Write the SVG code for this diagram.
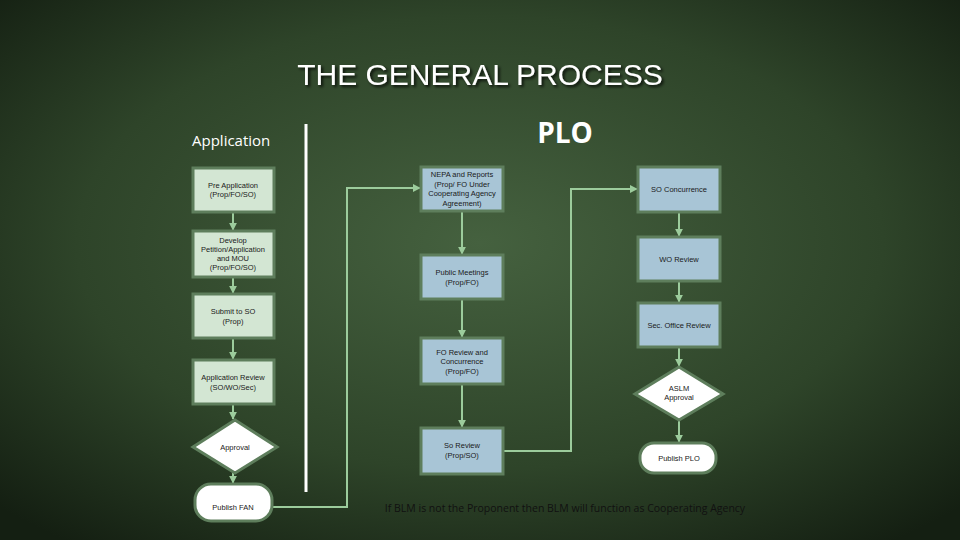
<svg xmlns="http://www.w3.org/2000/svg" width="960" height="540" viewBox="0 0 960 540">
<defs>
<radialGradient id="bg" cx="50%" cy="45%" r="70%"><stop offset="0" stop-color="#45613f"/><stop offset="0.6" stop-color="#2e4429"/><stop offset="1" stop-color="#141f12"/></radialGradient>
<marker id="ah" viewBox="0 0 10 10" refX="9" refY="5" markerWidth="4" markerHeight="4" orient="auto"><path d="M0,0L10,5L0,10z" fill="#9ccc9c"/></marker>
<filter id="sh"><feDropShadow dx="2" dy="2" stdDeviation="1.5" flood-color="#000" flood-opacity="0.8"/></filter>
</defs>
<style>
.g{fill:#d3e6d3;stroke:#5e7e5c;stroke-width:3}
.b{fill:#a8c5d6;stroke:#5e7e5c;stroke-width:3}
.w{fill:#fff;stroke:#5e7e5c;stroke-width:3}
.t{font-family:"Liberation Sans",Arial,sans-serif;font-size:7.5px;fill:#1a1a1a;text-anchor:middle}
.c{fill:none;stroke:#9ccc9c;stroke-width:2;marker-end:url(#ah)}
</style>
<rect width="960" height="540" fill="url(#bg)"/>
<text x="480" y="85" font-family="Liberation Sans,Arial,sans-serif" font-size="30" fill="#fff" text-anchor="middle" filter="url(#sh)">THE GENERAL PROCESS</text>
<text x="565" y="143" font-family="Open Sans,sans-serif" font-size="28" font-weight="bold" fill="#fff" text-anchor="middle">PLO</text>
<text x="192" y="146" font-family="Open Sans,sans-serif" font-size="15" fill="#fff">Application</text>
<line x1="306" y1="124" x2="306" y2="492" stroke="#fff" stroke-width="3"/>
<g id="connectors">
<path class="c" d="M233,212V230"/><path class="c" d="M233,277V293"/><path class="c" d="M233,338V359"/><path class="c" d="M233,404V419"/><path class="c" d="M233,473V483"/>
<path class="c" d="M272,507H347V188H420"/>
<path class="c" d="M462,211V254"/><path class="c" d="M462,299V337"/><path class="c" d="M462,384V427"/>
<path class="c" d="M503,451H571V189H637"/>
<path class="c" d="M679,212V236"/><path class="c" d="M679,281V302"/><path class="c" d="M679,347V366"/><path class="c" d="M679,420V442"/>
</g>
<g id="n1"><rect class="g" x="193" y="168" width="81" height="44"/><text class="t" x="233" y="188">Pre Application</text><text class="t" x="233" y="197">(Prop/FO/SO)</text></g>
<g id="n2"><rect class="g" x="193" y="231" width="81" height="46"/><text class="t" x="233" y="243">Develop</text><text class="t" x="233" y="252">Petition/Application</text><text class="t" x="233" y="261">and MOU</text><text class="t" x="233" y="270">(Prop/FO/SO)</text></g>
<g id="n3"><rect class="g" x="193" y="294" width="81" height="44"/><text class="t" x="233" y="314">Submit to SO</text><text class="t" x="233" y="324">(Prop)</text></g>
<g id="n4"><rect class="g" x="193" y="360" width="81" height="44"/><text class="t" x="233" y="380">Application Review</text><text class="t" x="233" y="390">(SO/WO/Sec)</text></g>
<g id="n5"><path class="w" d="M235,420L277,447L235,473L193,447z"/><text class="t" x="235" y="450">Approval</text></g>
<g id="n6"><rect class="w" x="195" y="484" width="77" height="37" rx="16"/><text class="t" x="233" y="510">Publish FAN</text></g>
<g id="n7"><rect class="b" x="421" y="167" width="82" height="44"/><text class="t" x="462" y="177">NEPA and Reports</text><text class="t" x="462" y="187">(Prop/ FO Under</text><text class="t" x="462" y="196">Cooperating Agency</text><text class="t" x="462" y="206">Agreement)</text></g>
<g id="n8"><rect class="b" x="421" y="255" width="82" height="44"/><text class="t" x="462" y="275">Public Meetings</text><text class="t" x="462" y="285">(Prop/FO)</text></g>
<g id="n9"><rect class="b" x="421" y="338" width="82" height="46"/><text class="t" x="462" y="355">FO Review and</text><text class="t" x="462" y="364">Concurrence</text><text class="t" x="462" y="374">(Prop/FO)</text></g>
<g id="n10"><rect class="b" x="421" y="428" width="82" height="46"/><text class="t" x="462" y="448">So Review</text><text class="t" x="462" y="458">(Prop/SO)</text></g>
<g id="n11"><rect class="b" x="638" y="167" width="82" height="45"/><text class="t" x="679" y="192">SO Concurrence</text></g>
<g id="n12"><rect class="b" x="638" y="237" width="82" height="44"/><text class="t" x="679" y="262">WO Review</text></g>
<g id="n13"><rect class="b" x="638" y="303" width="82" height="44"/><text class="t" x="679" y="328">Sec. Office Review</text></g>
<g id="n14"><path class="w" d="M679,367L723,394L679,420L635,394z"/><text class="t" x="679" y="391">ASLM</text><text class="t" x="679" y="400">Approval</text></g>
<g id="n15"><rect class="w" x="640" y="443" width="76" height="30" rx="14"/><text class="t" x="679" y="461">Publish PLO</text></g>
<text x="565" y="512" font-family="Open Sans,sans-serif" font-size="10.5" fill="#111" text-anchor="middle">If BLM is not the Proponent then BLM will function as Cooperating Agency</text>
</svg>
